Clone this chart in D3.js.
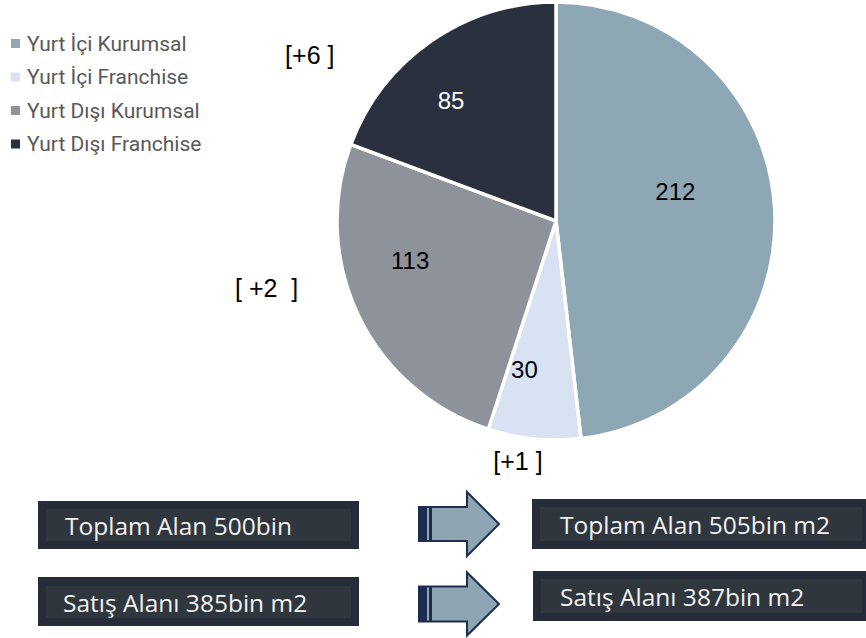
<!DOCTYPE html>
<html><head><meta charset="utf-8">
<script src="https://cdn.jsdelivr.net/npm/d3@7/dist/d3.min.js"></script>
<style>html,body{margin:0;padding:0;background:#fff;}svg{display:block;}</style>
</head><body><svg id="c" width="866" height="638"></svg>
<script>
const categories = ["Yurt İçi Kurumsal", "Yurt İçi Franchise", "Yurt Dışı Kurumsal", "Yurt Dışı Franchise"];
const values = [212, 30, 113, 85];
const changeLabels = ["", "[+1 ]", "[ +2  ]", "[+6 ]"];
const beforeLabels = ["Toplam Alan 500bin", "Satış Alanı 385bin m2"];
const afterLabels = ["Toplam Alan 505bin m2", "Satış Alanı 387bin m2"];

const colors = ["#8ea7b5", "#d9e2f3", "#8e929b", "#2b303f"];
const labelColors = ["#000", "#000", "#000", "#fff"];
// layout (polar: degrees clockwise from top, radius)
const valueLabelPolar = [[76, 123], [192, 152], [255, 151], [319, 160]];
const changeLabelPolar = [null, [189, 243], [257, 297], [304, 297]];

const svg = d3.select("#c");
const cx = 556, cy = 221, R = 219;
const g = svg.append("g").attr("transform", `translate(${cx},${cy})`);
const pie = d3.pie().sort(null).value(d => d)(values);
const arc = d3.arc().innerRadius(0).outerRadius(R);
g.selectAll("path.slice").data(pie).join("path")
  .attr("class", "slice").attr("d", arc)
  .attr("fill", (d, i) => colors[i]).attr("stroke", "#fff").attr("stroke-width", 3.5);

const polar = (p) => { const a = p[0] * Math.PI / 180; return [p[1] * Math.sin(a), -p[1] * Math.cos(a)]; };
g.selectAll("text.val").data(pie).join("text").attr("class", "val")
  .attr("x", (d, i) => polar(valueLabelPolar[i])[0])
  .attr("y", (d, i) => polar(valueLabelPolar[i])[1])
  .attr("text-anchor", "middle").attr("dominant-baseline", "central")
  .attr("font-family", "Liberation Sans, Arial, sans-serif").attr("font-size", 24)
  .attr("fill", (d, i) => labelColors[i]).text(d => d.data);

g.selectAll("text.chg").data(changeLabels.map((t, i) => ({ t, i })).filter(d => d.t)).join("text").attr("class", "chg")
  .attr("x", d => polar(changeLabelPolar[d.i])[0])
  .attr("y", d => polar(changeLabelPolar[d.i])[1])
  .attr("text-anchor", "middle").attr("dominant-baseline", "central")
  .attr("font-family", "Liberation Sans, Arial, sans-serif").attr("font-size", 25)
  .attr("fill", "#000").style("white-space", "pre").text(d => d.t);

// legend
const color = d3.scaleOrdinal().domain(categories).range(colors);
const ly = d3.scalePoint().domain(categories).range([43.5, 144]);
const leg = svg.append("g");
leg.selectAll("rect").data(categories).join("rect")
  .attr("x", 11).attr("y", d => ly(d) - 4.5).attr("width", 9).attr("height", 9).attr("fill", d => color(d));
leg.selectAll("text").data(categories).join("text")
  .attr("x", 27).attr("y", d => ly(d)).attr("dominant-baseline", "central")
  .attr("font-family", "Roboto, sans-serif").attr("font-size", 21).attr("fill", "#595959").text(d => d);

// boxes
function box(x, y, w, h, ix, iy, iw, ih, label, tx) {
  svg.append("rect").attr("x", x).attr("y", y).attr("width", w).attr("height", h).attr("fill", "#262c38");
  svg.append("rect").attr("x", ix).attr("y", iy).attr("width", iw).attr("height", ih).attr("fill", "#2f363e");
  svg.append("text").attr("x", tx).attr("y", iy + ih / 2).attr("dominant-baseline", "central")
    .attr("font-family", "Open Sans, sans-serif").attr("font-size", 24.5).attr("fill", "#f2f2f2").text(label);
}
box(38, 501, 321, 48, 46, 509, 305, 32, beforeLabels[0], 65);
box(38, 577, 321, 49, 46, 586, 305, 32, beforeLabels[1], 63);
box(532, 499, 334, 50, 540, 507, 322, 34, afterLabels[0], 560);
box(533, 571, 333, 50, 541, 579, 321, 34, afterLabels[1], 560);

// arrows
function arrow(x0, ymid, shaftH, headH, headX, tipX) {
  const p = d3.path();
  p.moveTo(x0, ymid - shaftH / 2); p.lineTo(headX, ymid - shaftH / 2); p.lineTo(headX, ymid - headH / 2);
  p.lineTo(tipX, ymid); p.lineTo(headX, ymid + headH / 2); p.lineTo(headX, ymid + shaftH / 2);
  p.lineTo(x0, ymid + shaftH / 2); p.closePath();
  svg.append("path").attr("d", p.toString()).attr("fill", "#8ea6b4").attr("stroke", "#1c2d50").attr("stroke-width", 2).attr("stroke-linejoin", "miter");
  svg.append("rect").attr("x", x0).attr("y", ymid - shaftH / 2).attr("width", 8).attr("height", shaftH).attr("fill", "#1c2d50");
  svg.append("rect").attr("x", x0 + 10).attr("y", ymid - shaftH / 2).attr("width", 3).attr("height", shaftH).attr("fill", "#1c2d50");
}
arrow(419, 524, 34, 64, 467, 499);
arrow(419, 604, 35, 63, 467, 499);
</script></body></html>
